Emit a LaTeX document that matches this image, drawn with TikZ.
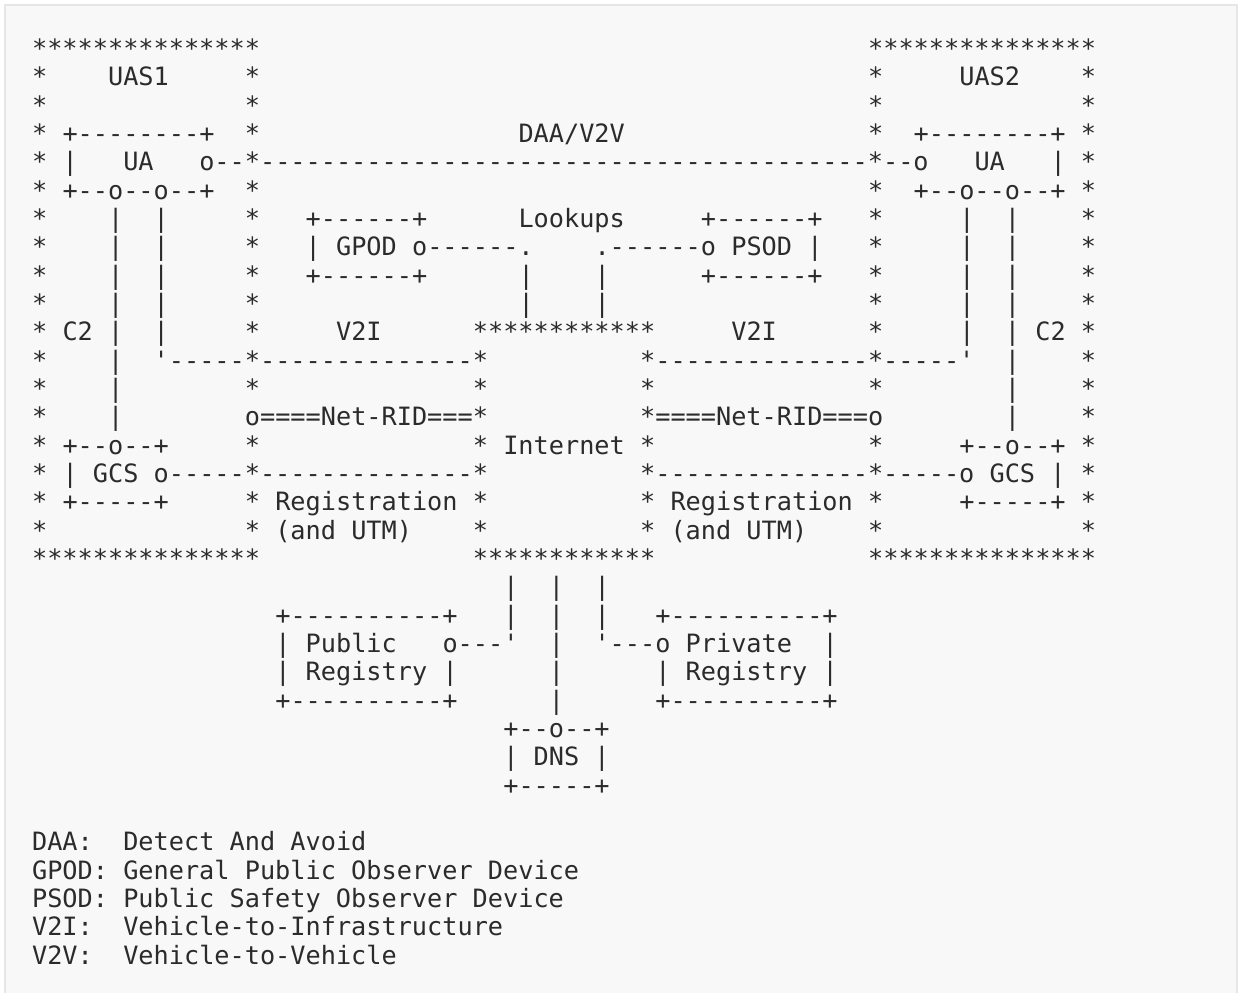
\documentclass[tikz,border=0pt]{standalone}
\usepackage{fontspec}
\setmonofont{DejaVu Sans Mono}
\definecolor{panelfill}{HTML}{F8F8F8}
\definecolor{panelline}{HTML}{E6E6E6}
\definecolor{inkgray}{HTML}{2B2B2B}
\frenchspacing

\begin{document}
\begin{tikzpicture}[
  x=7.6pt,
  y=14.165pt,
  artline/.style={
    anchor=base west,
    inner sep=0pt,
    text=inkgray,
    font=\ttfamily\fontsize{12.62pt}{14pt}\selectfont
  },
  panel/.style={
    fill=panelfill,
    draw=panelline,
    line width=1pt
  }
]

\fill[white] (-15.85pt,28.75pt) rectangle (604.15pt,-467.25pt);
\useasboundingbox (-15.85pt,28.75pt) rectangle (604.15pt,-467.25pt);
\draw[panel] (-13.35pt,26.25pt) rectangle (602.65pt,-472pt);

\newcommand{\drawtextrow}[2]{%
  \foreach \c/\txt in {#2} {
    \node[artline] (r#1c\c) at (\c,-#1) {\txt};
  }
}

\drawtextrow{0}{0/***************,55/***************}
\drawtextrow{1}{0/*,5/UAS1,14/*,55/*,61/UAS2,69/*}
\drawtextrow{2}{0/*,14/*,55/*,69/*}
\drawtextrow{3}{0/*,2/+--------+,14/*,32/{DAA/V2V},55/*,58/+--------+,69/*}
\drawtextrow{4}{0/*,2/|,6/UA,11/o--*----------------------------------------*--o,62/UA,67/|,69/*}
\drawtextrow{5}{0/*,2/+--o--o--+,14/*,55/*,58/+--o--o--+,69/*}
\drawtextrow{6}{0/*,5/|,8/|,14/*,18/+------+,32/Lookups,44/+------+,55/*,61/|,64/|,69/*}
\drawtextrow{7}{0/*,5/|,8/|,14/*,18/|,20/GPOD,25/o------.,37/.------o,46/PSOD,51/|,55/*,61/|,64/|,69/*}
\drawtextrow{8}{0/*,5/|,8/|,14/*,18/+------+,32/|,37/|,44/+------+,55/*,61/|,64/|,69/*}
\drawtextrow{9}{0/*,5/|,8/|,14/*,32/|,37/|,55/*,61/|,64/|,69/*}
\drawtextrow{10}{0/*,2/C2,5/|,8/|,14/*,20/V2I,29/************,46/V2I,55/*,61/|,64/|,66/C2,69/*}
\drawtextrow{11}{0/*,5/|,8/'-----*--------------*,40/*--------------*-----',64/|,69/*}
\drawtextrow{12}{0/*,5/|,14/*,29/*,40/*,55/*,64/|,69/*}
\drawtextrow{13}{0/*,5/|,14/o====Net-RID===*,40/*====Net-RID===o,64/|,69/*}
\drawtextrow{14}{0/*,2/+--o--+,14/*,29/* Internet *,55/*,61/+--o--+,69/*}
\drawtextrow{15}{0/*,2/| GCS o-----*--------------*,40/*--------------*-----o GCS |,69/*}
\drawtextrow{16}{0/*,2/+-----+,14/* Registration *,40/* Registration *,61/+-----+,69/*}
\drawtextrow{17}{0/*,14/* (and UTM),29/*,40/* (and UTM),55/*,69/*}
\drawtextrow{18}{0/***************,29/************,55/***************}
\drawtextrow{19}{31/|,34/|,37/|}
\drawtextrow{20}{16/+----------+,31/|,34/|,37/|,41/+----------+}
\drawtextrow{21}{16/|,18/Public,27/o---',34/|,37/'---o,43/Private,52/|}
\drawtextrow{22}{16/|,18/Registry,27/|,34/|,41/|,43/Registry,52/|}
\drawtextrow{23}{16/+----------+,34/|,41/+----------+}
\drawtextrow{24}{31/+--o--+}
\drawtextrow{25}{31/| DNS |}
\drawtextrow{26}{31/+-----+}

% legend
\drawtextrow{28}{0/DAA:,6/Detect And Avoid}
\drawtextrow{29}{0/GPOD: General Public Observer Device}
\drawtextrow{30}{0/PSOD: Public Safety Observer Device}
\drawtextrow{31}{0/V2I:,6/Vehicle-to-Infrastructure}
\drawtextrow{32}{0/V2V:,6/Vehicle-to-Vehicle}

\end{tikzpicture}
\end{document}
